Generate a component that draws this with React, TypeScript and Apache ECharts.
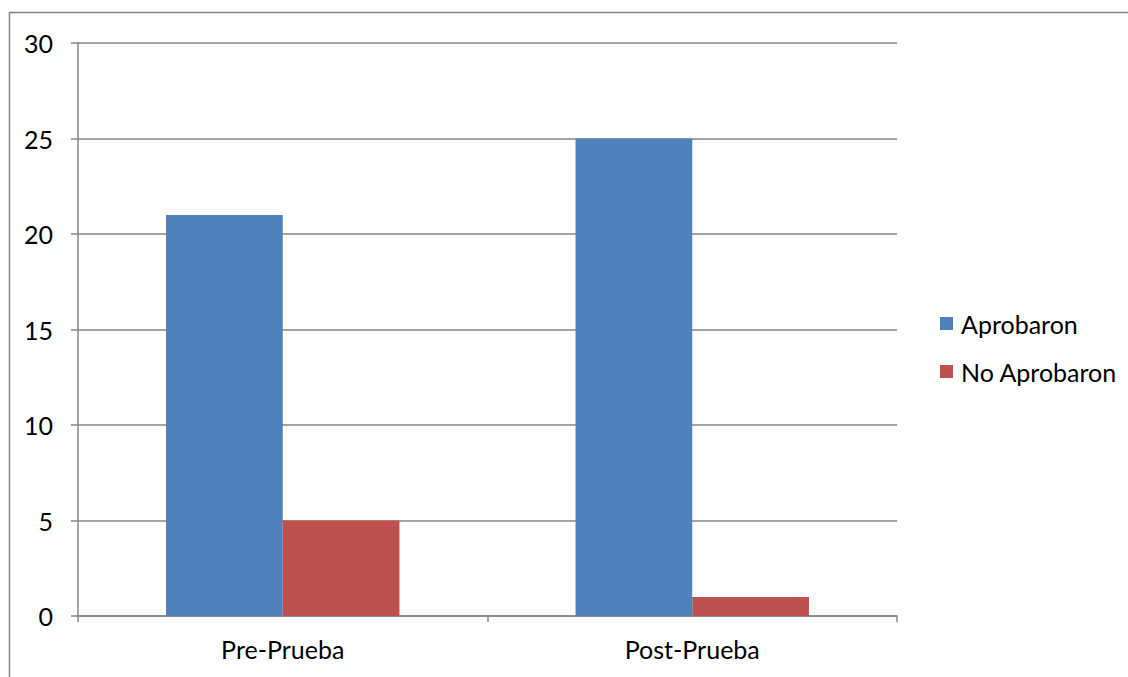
import React, { useEffect, useRef } from "react";
import * as echarts from "echarts";

const categories = ["Pre-Prueba", "Post-Prueba"];
const seriesNames = ["Aprobaron", "No Aprobaron"];
const aprobaron = [21, 25];
const noAprobaron = [5, 1];
const colors = ["#4F81BD", "#C0504D"];

const FONT = "Lato";

export default function App() {
  const ref = useRef<HTMLDivElement>(null);
  useEffect(() => {
    if (!ref.current) return;
    const chart = echarts.init(ref.current, null, { renderer: "svg" });
    chart.setOption({
      animation: false,
      backgroundColor: "#ffffff",
      textStyle: { fontFamily: FONT },
      grid: { left: 78, right: 231, top: 43, bottom: 61, containLabel: false },
      legend: {
        orient: "vertical",
        left: 935,
        top: 306,
        icon: "rect",
        itemWidth: 13,
        itemHeight: 13,
        itemGap: 23,
        textStyle: { fontFamily: FONT, fontSize: 25, color: "#000", lineHeight: 25, padding: [0, 0, 0, 3] },
        data: seriesNames,
      },
      xAxis: {
        type: "category",
        data: categories,
        axisLine: { show: true, lineStyle: { color: "#868686", width: 1.5 } },
        axisTick: { show: true, length: 6, alignWithLabel: false, lineStyle: { color: "#868686", width: 1.5 } },
        axisLabel: { fontFamily: FONT, fontSize: 25, color: "#000", margin: 20 },
        splitLine: { show: false },
      },
      yAxis: {
        type: "value",
        min: 0,
        max: 30,
        interval: 5,
        axisLine: { show: true, lineStyle: { color: "#868686", width: 1.5 } },
        axisTick: { show: true, length: 7, lineStyle: { color: "#868686", width: 1.5 } },
        axisLabel: { fontFamily: FONT, fontSize: 25, color: "#000", margin: 25 },
        splitLine: { show: true, lineStyle: { color: "#868686", width: 1.5 } },
      },
      series: [
        {
          name: seriesNames[0],
          type: "bar",
          data: aprobaron,
          itemStyle: { color: colors[0] },
          barGap: "0%",
          barCategoryGap: "43%",
        },
        {
          name: seriesNames[1],
          type: "bar",
          data: noAprobaron,
          itemStyle: { color: colors[1] },
          barGap: "0%",
          barCategoryGap: "43%",
        },
      ],
      graphic: [
        {
          type: "rect",
          shape: { x: 9.5, y: 12.5, width: 1300, height: 1000 },
          style: { fill: "none", stroke: "#868686", lineWidth: 1.5 },
          silent: true,
        },
      ],
    });
    return () => chart.dispose();
  }, []);
  return (
    <div
      ref={ref}
      style={{ position: "fixed", left: 0, top: 0, width: 1128, height: 677 }}
    />
  );
}
